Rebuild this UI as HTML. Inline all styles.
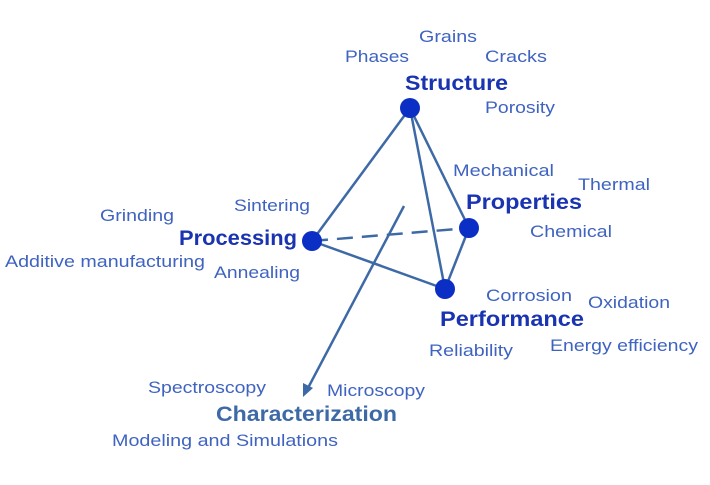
<!DOCTYPE html>
<html><head><style>
html,body{margin:0;padding:0;background:#fff;}
svg{display:block;}
.s{font-family:"Liberation Sans",sans-serif;font-size:17px;fill:#3f63c0;}
.b{font-family:"Liberation Sans",sans-serif;font-size:21px;font-weight:bold;fill:#1a33b0;}
</style></head><body>
<svg width="710" height="485" viewBox="0 0 710 485">
<g stroke="#3d6aa6" stroke-width="2.5" fill="none">
<line x1="410" y1="108" x2="312" y2="241"/>
<line x1="410" y1="108" x2="469" y2="228"/>
<line x1="410" y1="108" x2="445" y2="289"/>
<line x1="312" y1="241" x2="445" y2="289"/>
<line x1="469" y1="228" x2="445" y2="289"/>
<line x1="312" y1="241" x2="469" y2="228" stroke-dasharray="16,9"/>
<line x1="404" y1="206" x2="308" y2="388"/>
</g>
<polygon points="303,397 303,383 313,388" fill="#3d6aa6"/>
<g fill="#0b2fc4">
<circle cx="410" cy="108" r="10"/>
<circle cx="469" cy="228" r="10"/>
<circle cx="312" cy="241" r="10"/>
<circle cx="445" cy="289" r="10"/>
</g>
<g lengthAdjust="spacingAndGlyphs">
<text class="s" x="419" y="42" textLength="58" lengthAdjust="spacingAndGlyphs">Grains</text>
<text class="s" x="345" y="62" textLength="64" lengthAdjust="spacingAndGlyphs">Phases</text>
<text class="s" x="485" y="62" textLength="62" lengthAdjust="spacingAndGlyphs">Cracks</text>
<text class="b" x="405" y="90" textLength="103" lengthAdjust="spacingAndGlyphs">Structure</text>
<text class="s" x="485" y="113" textLength="70" lengthAdjust="spacingAndGlyphs">Porosity</text>
<text class="s" x="453" y="176" textLength="101" lengthAdjust="spacingAndGlyphs">Mechanical</text>
<text class="s" x="578" y="190" textLength="72" lengthAdjust="spacingAndGlyphs">Thermal</text>
<text class="b" x="466" y="209" textLength="116" lengthAdjust="spacingAndGlyphs">Properties</text>
<text class="s" x="530" y="237" textLength="82" lengthAdjust="spacingAndGlyphs">Chemical</text>
<text class="s" x="100" y="221" textLength="74" lengthAdjust="spacingAndGlyphs">Grinding</text>
<text class="s" x="234" y="211" textLength="76" lengthAdjust="spacingAndGlyphs">Sintering</text>
<text class="b" x="179" y="245" textLength="118" lengthAdjust="spacingAndGlyphs">Processing</text>
<text class="s" x="5" y="267" textLength="200" lengthAdjust="spacingAndGlyphs">Additive manufacturing</text>
<text class="s" x="214" y="278" textLength="86" lengthAdjust="spacingAndGlyphs">Annealing</text>
<text class="s" x="486" y="301" textLength="86" lengthAdjust="spacingAndGlyphs">Corrosion</text>
<text class="s" x="588" y="308" textLength="82" lengthAdjust="spacingAndGlyphs">Oxidation</text>
<text class="b" x="440" y="326" textLength="144" lengthAdjust="spacingAndGlyphs">Performance</text>
<text class="s" x="429" y="356" textLength="84" lengthAdjust="spacingAndGlyphs">Reliability</text>
<text class="s" x="550" y="351" textLength="148" lengthAdjust="spacingAndGlyphs">Energy efficiency</text>
<text class="s" x="148" y="393" textLength="118" lengthAdjust="spacingAndGlyphs">Spectroscopy</text>
<text class="s" x="327" y="396" textLength="98" lengthAdjust="spacingAndGlyphs">Microscopy</text>
<text class="b" x="216" y="421" textLength="181" lengthAdjust="spacingAndGlyphs" style="fill:#3d6aa6">Characterization</text>
<text class="s" x="112" y="446" textLength="226" lengthAdjust="spacingAndGlyphs">Modeling and Simulations</text>
</g>
</svg>
</body></html>
